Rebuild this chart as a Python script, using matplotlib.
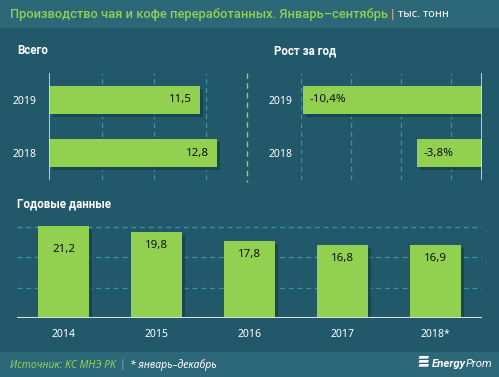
import matplotlib
matplotlib.use("Agg")
import matplotlib.pyplot as plt
import matplotlib.transforms as mtransforms
from matplotlib.patches import Rectangle, Polygon
from matplotlib.lines import Line2D

# ---------------- data ----------------
title_main = "Производство чая и кофе переработанных. Январь–сентябрь"
title_unit = "тыс. тонн"
total_years = ["2019", "2018"]
total_values = [11.5, 12.8]
growth_years = ["2019", "2018"]
growth_values = [-10.4, -3.8]
annual_years = ["2014", "2015", "2016", "2017", "2018*"]
annual_values = [21.2, 19.8, 17.8, 16.8, 16.9]
panel_titles = ["Всего", "Рост за год", "Годовые данные"]
source_text = "Источник: КС МНЭ РК"
note_text = "* январь–декабрь"
logo_bold = "Energy"
logo_norm = "Prom"

# ---------------- style ----------------
BG = "#22596a"
BAND = "#2c6878"
GREEN = "#92d050"
GRID = "#3d90aa"
SHADOW = "#173f4c"
WHITE = "#ffffff"
FONT = ["Noto Sans", "DejaVu Sans"]
BFONT = ["Roboto", "DejaVu Sans"]
plt.rcParams["font.family"] = FONT

W, H = 499, 377
fig = plt.figure(figsize=(W / 100, H / 100), dpi=100)
fig.patch.set_facecolor(BG)

def fx(px):
    return px / W

def fy(py):
    return 1 - py / H

# header & footer bands
fig.add_artist(Rectangle((0, fy(28)), 1, 28 / H, transform=fig.transFigure,
                         facecolor=BAND, edgecolor="none", zorder=0))
fig.add_artist(Rectangle((0, 0), 1, 25 / H, transform=fig.transFigure,
                         facecolor=BAND, edgecolor="none", zorder=0))

# header text placed sequentially
renderer = fig.canvas.get_renderer()
t1 = fig.text(fx(10), fy(14.5), title_main, color=GREEN, fontsize=9.3,
              fontweight="medium", va="center", ha="left", family=BFONT)
bb = t1.get_window_extent(renderer)
x = bb.x1 / W + fx(3)
t2 = fig.text(x, fy(14.5), "|", color="#e8a07a", fontsize=9.5, va="center",
              ha="left", fontweight="bold", family=BFONT)
bb = t2.get_window_extent(renderer)
fig.text(bb.x1 / W + fx(3), fy(14.5), title_unit, color=WHITE, fontsize=8,
         va="center", ha="left")

# panel titles
for (px, py), txt in zip([(17, 51), (274, 51), (17, 204)], panel_titles):
    fig.text(fx(px), fy(py), txt, color=WHITE, fontsize=8.3,
             fontweight="bold", va="center", ha="left", family=BFONT)

# separator line between top panels
fig.add_artist(Line2D([fx(246.7), fx(246.7)], [fy(73), fy(182)],
                      transform=fig.transFigure, color=GREEN, lw=1,
                      linestyle=(0, (4, 3))))

def shadow_tr(ax, dx=3.5, dy=-3):
    return mtransforms.offset_copy(ax.transData, fig=fig, x=dx, y=dy,
                                   units="dots")

def style_ax(ax):
    ax.set_facecolor("none")
    for s in ax.spines.values():
        s.set_visible(False)
    ax.tick_params(length=0, colors=WHITE, labelsize=7.5)

# ---------------- top-left: totals ----------------
ax1 = fig.add_axes([fx(49.3), fy(180), 197.4 / W, 107 / H])
style_ax(ax1)
ypos = [0, 1]
ax1.barh(ypos, total_values, height=0.52, color=SHADOW, alpha=0.8,
         transform=shadow_tr(ax1), zorder=2)
ax1.barh(ypos, total_values, height=0.52, color=GREEN, zorder=3)
ax1.set_xlim(0, 15.07)
ax1.set_ylim(1.5, -0.5)
ax1.set_yticks(ypos)
ax1.set_yticklabels(total_years)
ax1.tick_params(axis="y", pad=9)
ax1.set_xticks([4, 8, 12])
ax1.set_xticklabels([])
ax1.grid(axis="x", color=GRID, linestyle=(0, (4, 3)), lw=0.9, zorder=1)
ax1.axvline(0, color="#dddddd", lw=1.2, zorder=4)
for yv, v in zip(ypos, total_values):
    ax1.annotate(f"{v:.1f}".replace(".", ","), (v, yv), xytext=(-6, 0),
                 textcoords="offset points", ha="right", va="center",
                 fontsize=8.3, color="#111111", zorder=5)

# ---------------- top-right: growth ----------------
ax2 = fig.add_axes([fx(301), fy(180), 181.3 / W, 107 / H])
style_ax(ax2)
ax2.barh(ypos, growth_values, height=0.52, color=SHADOW, alpha=0.8,
         transform=shadow_tr(ax2), zorder=2)
ax2.barh(ypos, growth_values, height=0.52, color=GREEN, zorder=3)
ax2.set_xlim(-10.5, 0)
ax2.set_ylim(1.5, -0.5)
ax2.set_yticks(ypos)
ax2.set_yticklabels(growth_years)
ax2.tick_params(axis="y", pad=6)
ax2.set_xticks([-10.5, -7.6, -4.7, -1.8])
ax2.set_xticklabels([])
ax2.grid(axis="x", color=GRID, linestyle=(0, (4, 3)), lw=0.9, zorder=1)
ax2.axvline(0, color="#dddddd", lw=1.2, zorder=4)
for yv, v in zip(ypos, growth_values):
    ax2.annotate(f"{v:.1f}%".replace(".", ","), (v, yv), xytext=(5, 0),
                 textcoords="offset points", ha="left", va="center",
                 fontsize=8.3, color="#111111", zorder=5)

# ---------------- bottom: annual ----------------
ax3 = fig.add_axes([fx(17), fy(318.3), 465 / W, 100.2 / H])
style_ax(ax3)
xpos = list(range(len(annual_values)))
ax3.bar(xpos, annual_values, width=0.54, color=SHADOW, alpha=0.8,
        transform=shadow_tr(ax3), zorder=2)
ax3.bar(xpos, annual_values, width=0.54, color=GREEN, zorder=3)
ax3.set_xlim(-0.5, len(annual_values) - 0.5)
ax3.set_ylim(0, 23)
ax3.set_yticks([7, 14, 21])
ax3.set_yticklabels([])
ax3.set_xticks(xpos)
ax3.set_xticklabels(annual_years)
ax3.tick_params(axis="x", pad=8)
ax3.grid(axis="y", color=GRID, linestyle=(0, (4, 3)), lw=0.9, zorder=1)
ax3.axhline(0, color="#dddddd", lw=1.5, zorder=4)
for i, (xv, v) in enumerate(zip(xpos, annual_values)):
    off = -17 if i == 0 else -10
    ax3.annotate(f"{v:.1f}".replace(".", ","), (xv, v), xytext=(0, off),
                 textcoords="offset points", ha="center", va="center",
                 fontsize=8.3, color="#111111", zorder=5)

# ---------------- footer ----------------
s1 = fig.text(fx(10), fy(365), source_text, color=GREEN, fontsize=7.5,
              style="italic", va="center", ha="left")
bb = s1.get_window_extent(renderer)
s2 = fig.text(bb.x1 / W + fx(4), fy(365), "|", color="#9aa9ad", fontsize=7.5,
              va="center", ha="left")
bb = s2.get_window_extent(renderer)
fig.text(bb.x1 / W + fx(4), fy(365), note_text, color=WHITE, fontsize=7.5,
         style="italic", va="center", ha="left")

# logo
lx, ly = 418, 362
for k in range(3):
    y0 = ly - 6 + k * 4
    poly = Polygon([(fx(lx + 1.5), fy(y0)), (fx(lx + 11), fy(y0)),
                    (fx(lx + 10), fy(y0 + 2.7)), (fx(lx + 0.5), fy(y0 + 2.7))],
                   closed=True, transform=fig.transFigure, facecolor=WHITE,
                   edgecolor="none")
    fig.add_artist(poly)
g1 = fig.text(fx(432), fy(364), logo_bold, color=WHITE, fontsize=8.2,
              fontweight="bold", style="italic", va="center", ha="left",
              family=BFONT)
bb = g1.get_window_extent(renderer)
fig.text(bb.x1 / W, fy(364), logo_norm, color=WHITE, fontsize=8.2,
         style="italic", va="center", ha="left", family=BFONT)

fig.savefig("out.png", dpi=100, facecolor=fig.get_facecolor())
